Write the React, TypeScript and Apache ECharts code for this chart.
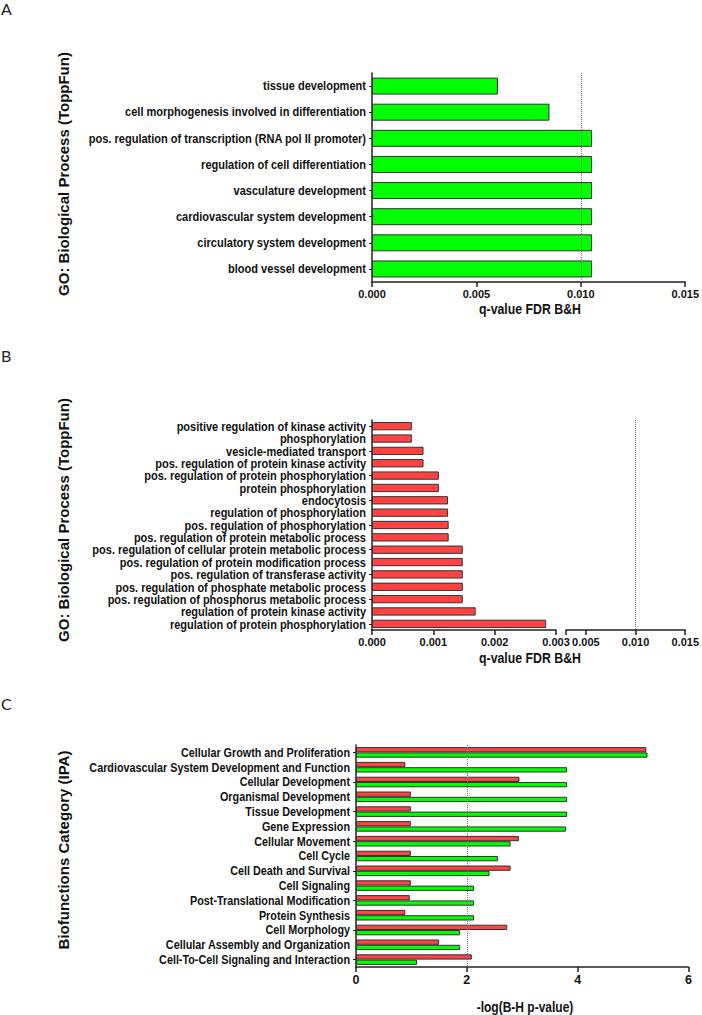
import React, { useEffect, useRef } from "react";
import * as echarts from "echarts";

// ---------- Panel A data ----------
const aCategories = [
  "tissue development",
  "cell morphogenesis involved in differentiation",
  "pos. regulation of transcription (RNA pol II promoter)",
  "regulation of cell differentiation",
  "vasculature development",
  "cardiovascular system development",
  "circulatory system development",
  "blood vessel development",
];
const aValues = [0.00603, 0.0085, 0.01054, 0.01054, 0.01054, 0.01054, 0.01054, 0.01054];
const aThreshold = 0.01;

// ---------- Panel B data ----------
const bCategories = [
  "positive regulation of kinase activity",
  "phosphorylation",
  "vesicle-mediated transport",
  "pos. regulation of protein kinase activity",
  "pos. regulation of protein phosphorylation",
  "protein phosphorylation",
  "endocytosis",
  "regulation of phosphorylation",
  "pos. regulation of phosphorylation",
  "pos. regulation of protein metabolic process",
  "pos. regulation of cellular protein metabolic process",
  "pos. regulation of protein modification process",
  "pos. regulation of transferase activity",
  "pos. regulation of phosphate metabolic process",
  "pos. regulation of phosphorus metabolic process",
  "regulation of protein kinase activity",
  "regulation of protein phosphorylation",
];
const bValues = [
  0.00065, 0.00065, 0.00084, 0.00084, 0.00109, 0.00109, 0.00124, 0.00124, 0.00125,
  0.00125, 0.00148, 0.00148, 0.00148, 0.00148, 0.00148, 0.00169, 0.00284,
];
const bLeftRange = [0, 0.003];
const bRightRange = [0.003, 0.015];
const bRightTicks = [0.005, 0.01, 0.015];
const bThreshold = 0.01;

// ---------- Panel C data ----------
const cCategories = [
  "Cellular Growth and Proliferation",
  "Cardiovascular System Development and Function",
  "Cellular Development",
  "Organismal Development",
  "Tissue Development",
  "Gene Expression",
  "Cellular Movement",
  "Cell Cycle",
  "Cell Death and Survival",
  "Cell Signaling",
  "Post-Translational Modification",
  "Protein Synthesis",
  "Cell Morphology",
  "Cellular Assembly and Organization",
  "Cell-To-Cell Signaling and Interaction",
];
const cRed = [5.24, 0.89, 2.95, 0.99, 0.99, 0.99, 2.94, 0.99, 2.79, 0.99, 0.97, 0.89, 2.73, 1.5, 2.09];
const cGreen = [5.26, 3.81, 3.81, 3.81, 3.81, 3.79, 2.79, 2.56, 2.41, 2.13, 2.13, 2.13, 1.88, 1.88, 1.1];
const cThreshold = 2;

const SANS = "'Liberation Sans', Arial, sans-serif";
const LETTER = "Lato, 'Open Sans', sans-serif";
const INK = "#111";
const GREEN = "#00ff00";
const RED = "#ff4343";
const EDGE = "#333";

function dotted(x: number) {
  return {
    silent: true,
    symbol: "none",
    label: { show: false },
    lineStyle: { type: "dotted", color: "#777", width: 1 },
    data: [{ xAxis: x }],
  };
}

function valueAxis(gridIndex: number, min: number, max: number, interval: number, digits: number, extra: any = {}) {
  return {
    type: "value",
    gridIndex,
    min,
    max,
    interval,
    axisLine: { show: true, lineStyle: { color: "#222", width: 1.5 } },
    axisTick: { show: true, length: 5, lineStyle: { color: "#222", width: 1.5 } },
    axisLabel: {
      color: INK,
      fontFamily: SANS,
      fontWeight: "bold",
      fontSize: 11,
      margin: 6,
      formatter: (v: number) => v.toFixed(digits),
    },
    splitLine: { show: false },
    ...extra,
  };
}

function categoryAxis(gridIndex: number, data: string[], show = true) {
  return {
    type: "category",
    gridIndex,
    data,
    inverse: true,
    show,
    axisLine: { show: true, lineStyle: { color: "#222", width: 1.5 } },
    axisTick: { show: true, alignWithLabel: true, length: 3, lineStyle: { color: "#222", width: 1 } },
    axisLabel: { show: false },
    splitLine: { show: false },
  };
}

export default function App() {
  const ref = useRef<HTMLDivElement>(null);
  useEffect(() => {
    if (!ref.current) return;
    const chart = echarts.init(ref.current, undefined, { renderer: "svg" });
    const baseGraphics: any[] = [
      { type: "text", left: 1, top: 0, style: { text: "A", font: `16px ${LETTER}`, fill: "#222" } },
      { type: "text", left: 1, top: 347, style: { text: "B", font: `16px ${LETTER}`, fill: "#222" } },
      { type: "text", left: 1, top: 695, style: { text: "C", font: `16px ${LETTER}`, fill: "#222" } },
      {
        type: "text", x: 63, y: 174, rotation: Math.PI / 2,
        style: { text: "GO: Biological Process (ToppFun)", font: `bold 15px ${SANS}`, fill: INK, align: "center", verticalAlign: "middle" },
      },
      {
        type: "text", x: 63, y: 520, rotation: Math.PI / 2,
        style: { text: "GO: Biological Process (ToppFun)", font: `bold 15px ${SANS}`, fill: INK, align: "center", verticalAlign: "middle" },
      },
      {
        type: "text", x: 63, y: 850, rotation: Math.PI / 2,
        style: { text: "Biofunctions Category (IPA)", font: `bold 15px ${SANS}`, fill: INK, align: "center", verticalAlign: "middle" },
      },
      {
        type: "text", x: 530, y: 309, scaleX: 0.88,
        style: { text: "q-value FDR B&H", font: `bold 14px ${SANS}`, fill: INK, align: "center", verticalAlign: "middle" },
      },
      {
        type: "text", x: 530, y: 658, scaleX: 0.88,
        style: { text: "q-value FDR B&H", font: `bold 14px ${SANS}`, fill: INK, align: "center", verticalAlign: "middle" },
      },
      {
        type: "text", x: 525, y: 1007, scaleX: 0.8,
        style: { text: "-log(B-H p-value)", font: `bold 15px ${SANS}`, fill: INK, align: "center", verticalAlign: "middle" },
      },
    ];
    const option: any = {
      animation: false,
      backgroundColor: "#fff",
      grid: [
        { left: 372, top: 73, width: 317, height: 209 },
        { left: 372, top: 420, width: 184, height: 210 },
        { left: 566, top: 420, width: 123, height: 210 },
        { left: 356, top: 745, width: 332.5, height: 222 },
      ],
      xAxis: [
        valueAxis(0, 0, 0.015, 0.005, 3),
        valueAxis(1, bLeftRange[0], bLeftRange[1], 0.001, 3),
        valueAxis(2, bRightRange[0], bRightRange[1], 0.003, 3, {
          axisTick: {
            show: true,
            length: 5,
            customValues: [bRightRange[0], ...bRightTicks],
            lineStyle: { color: "#222", width: 1.5 },
          },
          axisLabel: {
            color: INK,
            fontFamily: SANS,
            fontWeight: "bold",
            fontSize: 11,
            margin: 6,
            customValues: bRightTicks,
            formatter: (v: number) => v.toFixed(3),
          },
        }),
        valueAxis(3, 0, 6, 2, 0, {
          axisLabel: {
            color: INK,
            fontFamily: SANS,
            fontWeight: "bold",
            fontSize: 12.5,
            margin: 6,
          },
        }),
      ],
      yAxis: [
        categoryAxis(0, aCategories),
        categoryAxis(1, bCategories),
        categoryAxis(2, bCategories, false),
        categoryAxis(3, cCategories),
      ],
      series: [
        {
          type: "bar",
          xAxisIndex: 0,
          yAxisIndex: 0,
          data: aValues,
          barWidth: 17,
          itemStyle: { color: GREEN, borderColor: EDGE, borderWidth: 1 },
          markLine: dotted(aThreshold),
        },
        {
          type: "bar",
          xAxisIndex: 1,
          yAxisIndex: 1,
          data: bValues,
          barWidth: 8.3,
          itemStyle: { color: RED, borderColor: EDGE, borderWidth: 1 },
        },
        {
          type: "bar",
          xAxisIndex: 2,
          yAxisIndex: 2,
          data: bCategories.map(() => "-"),
          markLine: dotted(bThreshold),
        },
        {
          type: "bar",
          xAxisIndex: 3,
          yAxisIndex: 3,
          data: cRed,
          barWidth: 5.3,
          barGap: "0%",
          itemStyle: { color: RED, borderColor: EDGE, borderWidth: 1 },
          markLine: dotted(cThreshold),
        },
        {
          type: "bar",
          xAxisIndex: 3,
          yAxisIndex: 3,
          data: cGreen,
          barWidth: 5.3,
          barGap: "0%",
          itemStyle: { color: GREEN, borderColor: EDGE, borderWidth: 1 },
        },
      ],
      graphic: baseGraphics,
    };
    chart.setOption(option);

    // Category labels: condensed bold text placed through the axes' own scales
    const labels: any[] = [];
    const addLabels = (gridIndex: number, cats: string[], fontSize: number, scaleX: number) => {
      cats.forEach((c, i) => {
        const p = chart.convertToPixel({ gridIndex }, [0, i]) as number[];
        labels.push({
          type: "text",
          x: p[0] - 6,
          y: p[1],
          scaleX,
          style: {
            text: c,
            font: `bold ${fontSize}px ${SANS}`,
            fill: INK,
            align: "right",
            verticalAlign: "middle",
          },
        });
      });
    };
    addLabels(0, aCategories, 13, 0.85);
    addLabels(1, bCategories, 12.5, 0.88);
    addLabels(3, cCategories, 13, 0.83);
    chart.setOption({ graphic: [...baseGraphics, ...labels] });

    return () => chart.dispose();
  }, []);
  return (
    <div
      ref={ref}
      style={{ position: "absolute", left: 0, top: 0, width: 702, height: 1015, background: "#fff" }}
    />
  );
}
